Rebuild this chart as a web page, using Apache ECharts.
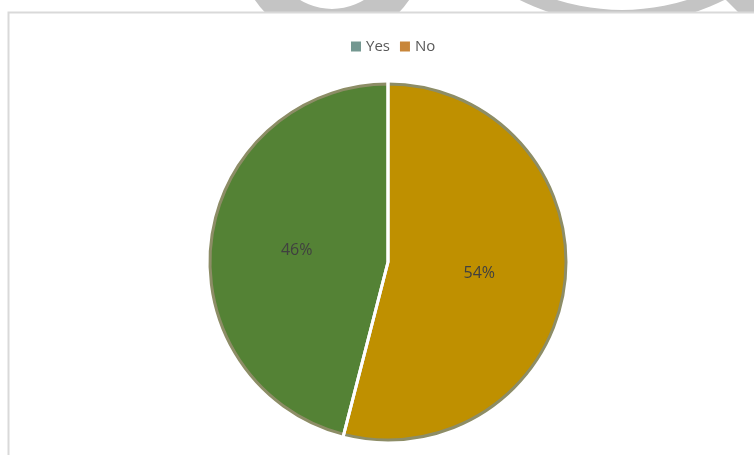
<!DOCTYPE html>
<html>
<head>
<meta charset="utf-8">
<script src="https://cdn.jsdelivr.net/npm/echarts@6/dist/echarts.min.js"></script>
<style>html,body{margin:0;padding:0;background:#fff}#c{width:754px;height:455px}</style>
</head>
<body>
<div id="c"></div>
<script>
const categories = ['No', 'Yes'];
const values = [54, 46];
const sliceColors = ['#BF9000', '#548235'];
const legendOrder = ['Yes', 'No'];
const legendColors = ['#749891', '#C8863A'];

const chart = echarts.init(document.getElementById('c'), null, {renderer: 'canvas'});
const pieData = categories.map((c, i) => ({name: c, value: values[i], itemStyle: {color: sliceColors[i]}}));

chart.setOption({
  animation: false,
  backgroundColor: '#ffffff',
  graphic: [
    {type: 'ring', z: 0, shape: {cx: 332, cy: -52, r: 61, r0: 93}, style: {fill: '#c4c4c4'}},
    {type: 'ring', z: 0, shape: {cx: 622, cy: -206, r: 216, r0: 230}, style: {fill: '#c4c4c4'}},
    {type: 'polygon', z: 0, shape: {points: [[726, 0], [754, 0], [754, 12], [738, 12]]}, style: {fill: '#c4c4c4'}},
    {type: 'rect', z: 1, shape: {x: 8.5, y: 12.5, width: 800, height: 500}, style: {fill: '#ffffff', stroke: '#d9d9d9', lineWidth: 2}}
  ],
  legend: {
    data: legendOrder.map((n, i) => ({name: n, itemStyle: {color: legendColors[i], borderWidth: 0}})),
    top: 34,
    left: 346,
    itemWidth: 10,
    itemHeight: 10,
    itemGap: 10,
    icon: 'rect',
    itemStyle: {borderWidth: 0},
    textStyle: {fontFamily: 'Open Sans', fontSize: 15, color: '#595959'}
  },
  series: [
    {
      type: 'pie',
      z: 10,
      center: [388, 262],
      radius: 178,
      startAngle: 90,
      clockwise: true,
      silent: true,
      data: pieData,
      itemStyle: {borderColor: '#8d8d66', borderWidth: 3},
      label: {
        show: true,
        position: 'inside',
        formatter: '{c}%',
        fontFamily: 'Open Sans',
        fontSize: 16,
        color: '#404040'
      },
      labelLine: {show: false}
    },
    {
      type: 'pie',
      z: 11,
      center: [388, 262],
      radius: 182,
      startAngle: 90,
      clockwise: true,
      silent: true,
      data: pieData.map(d => ({name: d.name, value: d.value})),
      itemStyle: {color: 'rgba(0,0,0,0)', borderColor: '#ffffff', borderWidth: 3},
      label: {show: false},
      labelLine: {show: false}
    }
  ]
});
</script>
</body>
</html>
